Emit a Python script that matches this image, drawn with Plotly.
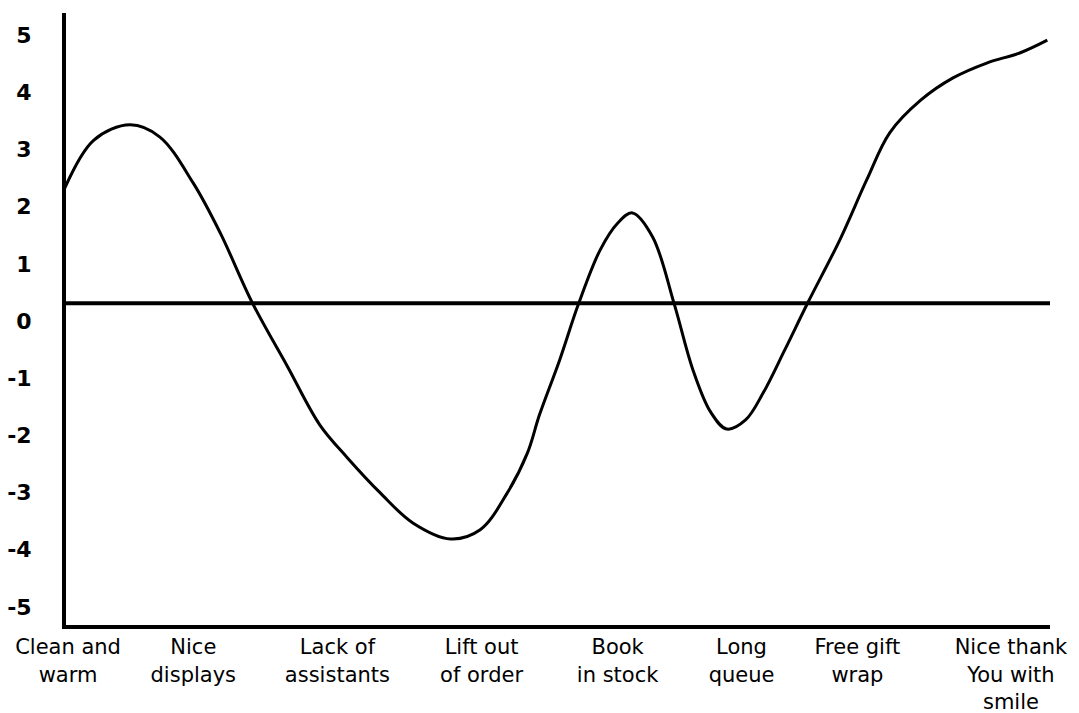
import plotly.graph_objects as go

# Category labels and their positions along the x axis (fractional index units)
categories = ["Clean and<br>warm", "Nice<br>displays", "Lack of<br>assistants",
              "Lift out<br>of order", "Book<br>in stock", "Long<br>queue",
              "Free gift<br>wrap", "Nice thank<br>You with<br>smile"]
category_pos = [0.0, 0.93, 2.0, 3.07, 4.08, 5.0, 5.86, 7.0]

# Freehand sentiment curve
curve_x = [-0.04, 0.19, 0.46, 0.68, 0.93, 1.13, 1.37, 1.63, 1.87, 2.07, 2.32, 2.56,
           2.84, 3.06, 3.26, 3.41, 3.50, 3.65, 3.79, 3.95, 4.08, 4.19, 4.34, 4.50,
           4.64, 4.77, 4.89, 5.03, 5.16, 5.32, 5.49, 5.73, 5.93, 6.10, 6.33, 6.57,
           6.82, 7.07, 7.27]
curve_y = [2.24, 3.16, 3.43, 3.22, 2.41, 1.54, 0.31, -0.80, -1.82, -2.38, -3.01, -3.53,
           -3.81, -3.65, -3.01, -2.31, -1.64, -0.68, 0.30, 1.24, 1.71, 1.89, 1.47, 0.30,
           -0.86, -1.59, -1.89, -1.73, -1.26, -0.51, 0.31, 1.42, 2.47, 3.29, 3.86, 4.25,
           4.51, 4.69, 4.91]

baseline = 0.31  # the drawn "neutral" line
y_ticks = [5, 4, 3, 2, 1, 0, -1, -2, -3, -4, -5]

fig = go.Figure()
fig.add_trace(go.Scatter(
    x=curve_x, y=curve_y, mode="lines",
    line=dict(color="black", width=3, shape="spline", smoothing=1.0),
    hoverinfo="skip", showlegend=False,
))

fig.add_shape(type="line", xref="paper", yref="y", x0=0, x1=1,
              y0=baseline, y1=baseline, line=dict(color="black", width=4))

fig.update_layout(
    width=1079, height=713,
    margin=dict(l=66, r=29, t=13, b=88),
    paper_bgcolor="white", plot_bgcolor="white",
    showlegend=False,
    font=dict(family="DejaVu Sans", color="black"),
)
fig.update_xaxes(
    range=[-0.015, 7.29], tickmode="array", tickvals=category_pos, ticktext=categories,
    showgrid=False, zeroline=False, showline=True, linecolor="black", linewidth=4,
    ticks="", tickfont=dict(size=21, family="DejaVu Sans", color="black"),
    ticklabelstandoff=0, automargin=False,
)
fig.update_yaxes(
    range=[-5.315, 5.385], tickmode="array", tickvals=y_ticks,
    ticktext=[str(t) for t in y_ticks],
    showgrid=False, zeroline=False, showline=True, linecolor="black", linewidth=4,
    ticks="", tickfont=dict(size=22, family="DejaVu Sans", color="black", weight="bold"),
    ticklabelstandoff=26, automargin=False,
)

fig.write_html(
    "out.html",
    config={"displayModeBar": False},
    post_script="document.body.style.margin='0';document.body.style.overflow='hidden';",
)
